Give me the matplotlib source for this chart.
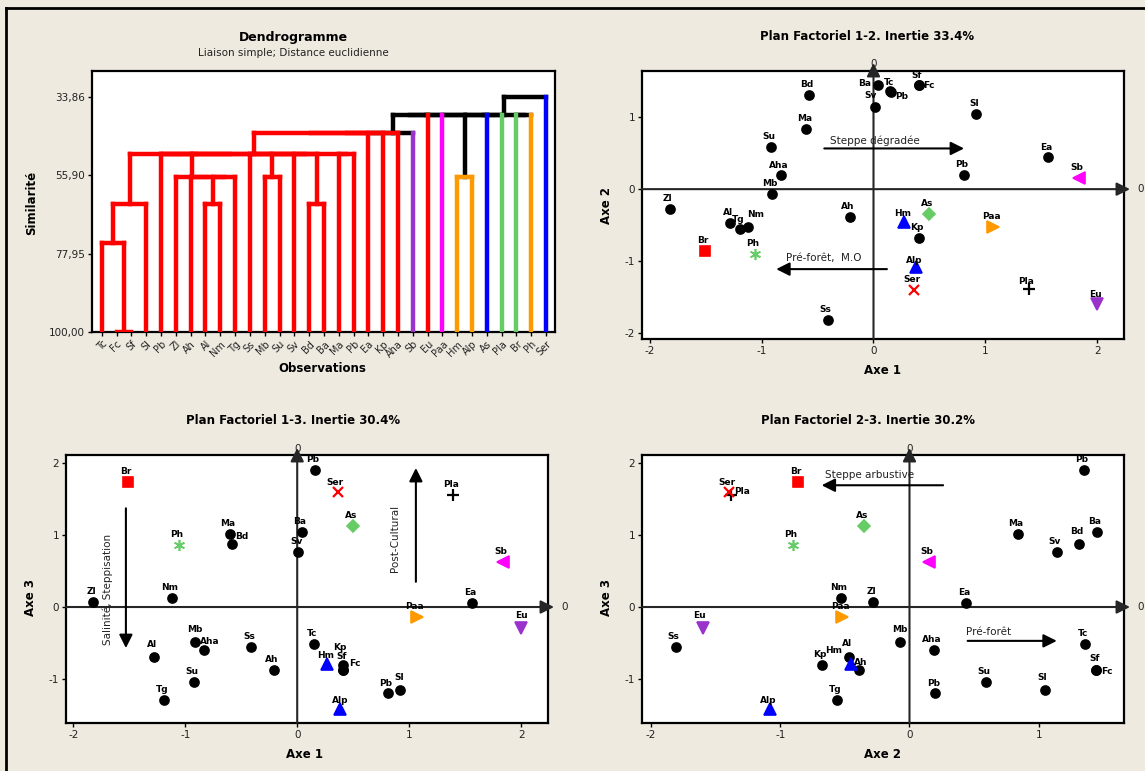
import matplotlib
matplotlib.use('Agg')
import matplotlib.pyplot as plt
from matplotlib.lines import Line2D

plt.rcParams['font.family'] = 'DejaVu Sans'
plt.rcParams['axes.unicode_minus'] = False

# espèces (deux "Pb" différents)
noms = ['Tc', 'Fc', 'Sf', 'Sl', 'Pb', 'Zl', 'Ah', 'Al', 'Nm', 'Tg', 'Ss', 'Mb', 'Su', 'Sv', 'Bd', 'Ba',
        'Ma', 'Pb', 'Ea', 'Kp', 'Aha', 'Sb', 'Eu', 'Paa', 'Hm', 'Alp', 'As', 'Pla', 'Br', 'Ph', 'Ser']

# coordonnées factorielles
axe1 = [0.15, 0.41, 0.41, 0.92, 0.16, -1.82, -0.21, -1.28, -1.12, -1.19, -0.41, -0.91, -0.92, 0.01, -0.58, 0.04,
        -0.60, 0.81, 1.56, 0.41, -0.83, 1.84, 2.00, 1.07, 0.27, 0.38, 0.50, 1.39, -1.51, -1.06, 0.36]
axe2 = [1.36, 1.44, 1.44, 1.05, 1.35, -0.28, -0.39, -0.47, -0.53, -0.56, -1.81, -0.07, 0.59, 1.14, 1.31, 1.45,
        0.84, 0.20, 0.44, -0.68, 0.19, 0.15, -1.60, -0.52, -0.45, -1.08, -0.35, -1.38, -0.86, -0.90, -1.40]
axe3 = [-0.51, -0.87, -0.87, -1.15, 1.90, 0.07, -0.88, -0.69, 0.13, -1.29, -0.56, -0.48, -1.04, 0.76, 0.88, 1.04,
        1.01, -1.20, 0.05, -0.80, -0.60, 0.62, -0.29, -0.14, -0.79, -1.41, 1.13, 1.56, 1.73, 0.86, 1.59]

# dendrogramme : couleur de chaque feuille
rouge, bleu, vert, orange, magenta, violet = '#FF0000', '#0000FF', '#66CC66', '#FF9900', '#FF00FF', '#9933CC'
coul_feuille = [rouge] * 21 + [violet, rouge, magenta, orange, orange, bleu, vert, vert, orange, bleu]

# fusions (enfant a, enfant b, similarité) ; nouveaux noeuds numérotés à partir de 31
fusions = [
    (1, 2, 100.0), (0, 31, 74.95), (32, 3, 64.16), (7, 8, 64.16), (14, 15, 64.16),
    (34, 9, 56.38), (6, 36, 56.38), (5, 37, 56.38), (11, 12, 56.38), (24, 25, 56.38),
    (13, 35, 50.09), (39, 41, 50.09), (10, 42, 50.09), (38, 43, 50.09), (4, 44, 50.09),
    (33, 45, 50.09), (16, 17, 50.09), (46, 47, 50.09),
    (48, 18, 44.0), (49, 19, 44.0), (50, 20, 44.0), (51, 21, 44.0),
    (52, 22, 39.02), (53, 23, 39.02), (54, 40, 39.02), (55, 26, 39.02), (56, 27, 39.02),
    (28, 29, 39.02), (57, 58, 39.02), (59, 30, 33.86),
]
sim_ticks = [33.86, 55.90, 77.95, 100.00]

# styles des marqueurs
styles = {'Sb': ('<', magenta, 9), 'Eu': ('v', violet, 9), 'Paa': ('>', orange, 9),
          'Hm': ('^', bleu, 9), 'Alp': ('^', bleu, 9), 'As': ('D', vert, 6.5),
          'Pla': ('+', 'black', 8), 'Br': ('s', rouge, 7), 'Ph': ((6, 2, 0), vert, 8),
          'Ser': ('x', rouge, 7)}

# décalages des étiquettes (points) par plan, sinon (-1.5, 7.5)
dec12 = {15: (-9.5, 1), 0: (-1, 6), 4: (7.5, -3), 2: (-2, 7), 1: (7, 0), 13: (-3, 8), 8: (5, 9),
         24: (-1, 6), 25: (-1, 5), 27: (-2, 5)}
dec13 = {14: (7, 5), 20: (3.7, 6.5), 19: (-2.6, 12.5), 2: (-1, 9.6), 1: (8.4, 4.5), 24: (-1, 6),
         25: (0, 5.5), 22: (0, 9), 11: (-0.5, 9), 7: (-1.3, 9), 3: (-1, 9)}
dec23 = {27: (7.5, 2.4), 24: (-13, 9.5), 6: (1.3, 5.5), 1: (8.4, -1.2), 2: (-0.5, 7.7), 25: (-1.6, 5.5),
         22: (-2.6, 9), 11: (-0.5, 9), 7: (-1.5, 9.5), 3: (-2, 9), 14: (-1.3, 9)}

W, H = 1145, 771
def boite(l, t, r, b):
    return [l / W, 1 - b / H, (r - l) / W, (b - t) / H]

fig = plt.figure(figsize=(W / 100, H / 100), dpi=100, facecolor='#EEEAE0')
fig.add_artist(Line2D([6 / W, 1], [1 - 8 / H] * 2, transform=fig.transFigure, color='black', lw=2))
fig.add_artist(Line2D([6 / W] * 2, [0, 1 - 8 / H], transform=fig.transFigure, color='black', lw=2))

def cadre(ax):
    for s in ax.spines.values():
        s.set_linewidth(1.6)
        s.set_color('black')
    ax.tick_params(direction='out', length=3, width=1, labelsize=7.5, pad=2, labelcolor='#222222')

# ---------- dendrogramme ----------
axd = fig.add_axes(boite(92, 71, 555, 332))
xs = list(range(len(noms)))
hs = [100.0] * len(noms)
feuilles = [[i] for i in range(len(noms))]
for a, b, h in fusions:
    f = feuilles[a] + feuilles[b]
    cs = set(coul_feuille[i] for i in f)
    c = cs.pop() if len(cs) == 1 else 'black'
    z = 2 if c == 'black' else 3
    axd.plot([xs[a], xs[b]], [h, h], color=c, lw=3.2, zorder=z, solid_capstyle='projecting')
    for e in (a, b):
        ce = coul_feuille[e] if e < len(noms) else c
        ze = 2 if ce == 'black' else 3
        axd.plot([xs[e], xs[e]], [hs[e], h], color=ce, lw=3.2, zorder=ze, solid_capstyle='projecting')
    xs.append((xs[a] + xs[b]) / 2)
    hs.append(h)
    feuilles.append(f)
axd.set_xlim(-0.66, 30.6)
axd.set_ylim(100, 26.64)
axd.set_yticks(sim_ticks)
axd.set_yticklabels([('%.2f' % v).replace('.', ',') for v in sim_ticks])
axd.set_xticks(range(len(noms)))
axd.set_xticklabels(noms, rotation=45, ha='right', rotation_mode='anchor', fontsize=7)
cadre(axd)
axd.tick_params(axis='x', labelsize=7)

fig.text(293 / W, 1 - 37 / H, 'Dendrogramme', ha='center', va='center', fontsize=9, fontweight='bold')
fig.text(293 / W, 1 - 53 / H, 'Liaison simple; Distance euclidienne', ha='center', va='center', fontsize=7.5,
         color='#222222')
fig.text(322 / W, 1 - 368 / H, 'Observations', ha='center', va='center', fontsize=8.5, fontweight='bold')
fig.text(32 / W, 1 - 203 / H, 'Similarité', ha='center', va='center', fontsize=8.5, fontweight='bold',
         rotation=90)

# ---------- plans factoriels ----------
def plan(ax, vx, vy, xlim, ylim, xt, yt, dec, px_haut, px_droite):
    ax.set_xlim(*xlim)
    ax.set_ylim(*ylim)
    ax.set_xticks(xt)
    ax.set_yticks(yt)
    cadre(ax)
    gris = '#262626'
    ax.annotate('', xy=(0, 1 + px_haut), xytext=(0, 0), xycoords=ax.get_xaxis_transform(),
                textcoords=ax.get_xaxis_transform(),
                arrowprops=dict(arrowstyle='-|>', color=gris, lw=1.5, mutation_scale=20,
                                shrinkA=0, shrinkB=0))
    ax.annotate('', xy=(1 + px_droite, 0), xytext=(0, 0), xycoords=ax.get_yaxis_transform(),
                textcoords=ax.get_yaxis_transform(),
                arrowprops=dict(arrowstyle='-|>', color=gris, lw=1.5, mutation_scale=20,
                                shrinkA=0, shrinkB=0))
    ax.annotate('0', xy=(0, 1 + px_haut), xycoords=ax.get_xaxis_transform(), xytext=(0, -4),
                textcoords='offset points', ha='center', va='bottom', fontsize=7.5, color='#222222')
    ax.annotate('0', xy=(1, 0), xycoords=ax.get_yaxis_transform(), xytext=(9.5, 0),
                textcoords='offset points', ha='left', va='center', fontsize=7.5, color='#222222')
    for i, n in enumerate(noms):
        m, c, ms = styles.get(n, ('o', 'black', 6.5))
        ax.plot(vx[i], vy[i], marker=m, color=c, ms=ms, mew=1.6 if m in ('+', 'x') else 1.2,
                ls='none', zorder=4)
        dx, dy = dec.get(i, (-1.5, 7.5))
        ax.annotate(n, (vx[i], vy[i]), xytext=(dx, dy), textcoords='offset points', ha='center',
                    va='center', fontsize=6.5, fontweight='bold', zorder=5)

def fleche(ax, queue, pointe):
    ax.annotate('', xy=pointe, xytext=queue,
                arrowprops=dict(arrowstyle='-|>', color='black', lw=1.5, mutation_scale=20,
                                shrinkA=0, shrinkB=0))

ax12 = fig.add_axes(boite(642, 71, 1124, 339))
plan(ax12, axe1, axe2, (-2.07, 2.24), (-2.08, 1.64), [-2, -1, 0, 1, 2], [-2, -1, 0, 1], dec12, 8 / 268, 6 / 482)
fleche(ax12, (-0.44, 0.565), (0.81, 0.565))
ax12.text(-0.39, 0.67, 'Steppe dégradée', fontsize=7.5, va='center', color='#222222')
fleche(ax12, (0.12, -1.11), (-0.87, -1.11))
ax12.text(-0.78, -0.95, 'Pré-forêt,  M.O', fontsize=7.5, va='center', color='#222222')
fig.text(867 / W, 1 - 37 / H, 'Plan Factoriel 1-2. Inertie 33.4%', ha='center', va='center', fontsize=8.5,
         fontweight='bold')
fig.text(882 / W, 1 - 370 / H, 'Axe 1', ha='center', va='center', fontsize=8.5, fontweight='bold')
fig.text(607 / W, 1 - 205 / H, 'Axe 2', ha='center', va='center', fontsize=8.5, fontweight='bold', rotation=90)

ax13 = fig.add_axes(boite(66, 455, 548, 723))
plan(ax13, axe1, axe3, (-2.065, 2.24), (-1.61, 2.11), [-2, -1, 0, 1, 2], [-1, 0, 1, 2], dec13, 7 / 268, 6 / 482)
fleche(ax13, (-1.53, 1.37), (-1.53, -0.57))
ax13.text(-1.69, 0.25, 'Salinité, Steppisation', fontsize=7.5, rotation=90, ha='center', va='center',
          color='#222222')
fleche(ax13, (1.06, 0.35), (1.06, 1.93))
ax13.text(0.87, 0.95, 'Post-Cultural', fontsize=7.5, rotation=90, ha='center', va='center', color='#222222')
fig.text(293 / W, 1 - 421 / H, 'Plan Factoriel 1-3. Inertie 30.4%', ha='center', va='center', fontsize=8.5,
         fontweight='bold')
fig.text(305 / W, 1 - 755 / H, 'Axe 1', ha='center', va='center', fontsize=8.5, fontweight='bold')
fig.text(31 / W, 1 - 597 / H, 'Axe 3', ha='center', va='center', fontsize=8.5, fontweight='bold', rotation=90)

ax23 = fig.add_axes(boite(642, 455, 1124, 723))
plan(ax23, axe2, axe3, (-2.07, 1.66), (-1.61, 2.11), [-2, -1, 0, 1], [-1, 0, 1, 2], dec23, 7 / 268, 6 / 482)
fleche(ax23, (0.26, 1.69), (-0.68, 1.69))
ax23.text(-0.65, 1.83, 'Steppe arbustive', fontsize=7.5, va='center', color='#222222')
fleche(ax23, (0.45, -0.47), (1.14, -0.47))
ax23.text(0.44, -0.34, 'Pré-forêt', fontsize=7.5, va='center', color='#222222')
fig.text(868 / W, 1 - 421 / H, 'Plan Factoriel 2-3. Inertie 30.2%', ha='center', va='center', fontsize=8.5,
         fontweight='bold')
fig.text(882 / W, 1 - 755 / H, 'Axe 2', ha='center', va='center', fontsize=8.5, fontweight='bold')
fig.text(607 / W, 1 - 597 / H, 'Axe 3', ha='center', va='center', fontsize=8.5, fontweight='bold', rotation=90)

fig.savefig('out.png', dpi=100, facecolor=fig.get_facecolor())
